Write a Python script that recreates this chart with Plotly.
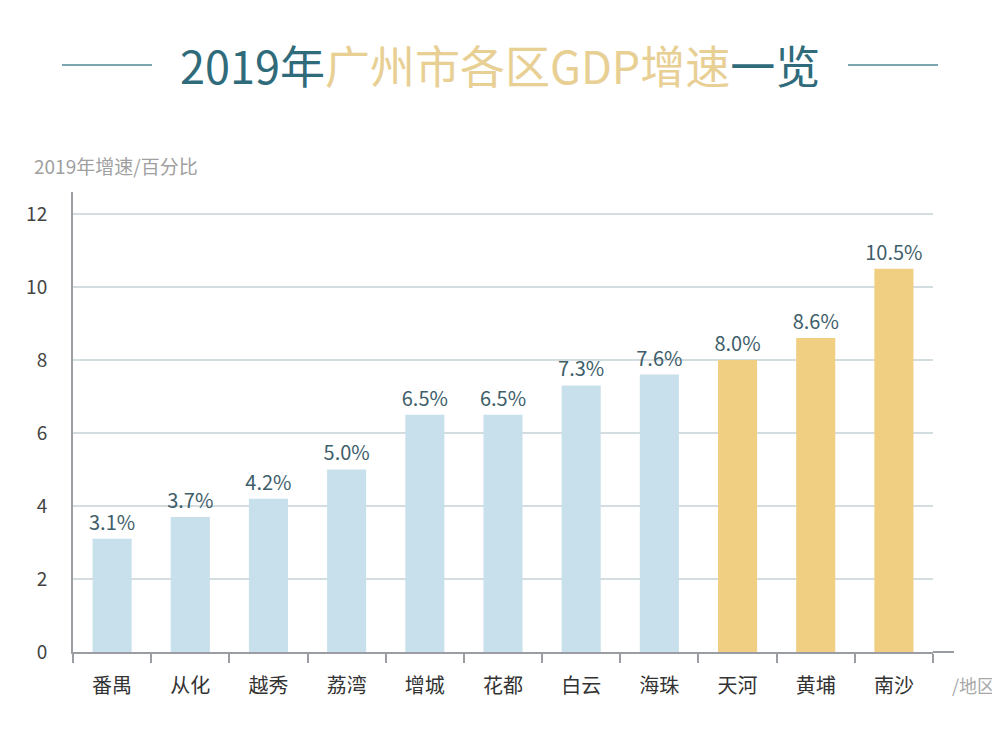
import plotly.graph_objects as go

districts = ["番禺", "从化", "越秀", "荔湾", "增城", "花都", "白云", "海珠", "天河", "黄埔", "南沙"]
growth = [3.1, 3.7, 4.2, 5.0, 6.5, 6.5, 7.3, 7.6, 8.0, 8.6, 10.5]
highlight = [False] * 8 + [True] * 3
y_ticks = [0, 2, 4, 6, 8, 10, 12]

BLUE = "#c8e0eb"
GOLD = "#f0cf82"
TEAL = "#2f6b7a"
CJK = "Noto Sans CJK SC, Noto Sans, sans-serif"

# page offset (browser default body margin)
OFF = 8
W, H = 1000 - OFF, 735 - OFF
L, R, T, B = 73, 933, 192, 652  # desired plot box in screenshot px
ML, MT = L - OFF, T - OFF
MR, MB = W - (R - OFF), H - (B - OFF)
PW, PH = R - L, B - T


def px(x):
    return (x - L) / PW


def py(y):
    return (B - y) / PH


colors = [GOLD if h else BLUE for h in highlight]

fig = go.Figure()
fig.add_trace(go.Bar(
    x=districts,
    y=growth,
    marker=dict(color=colors, line=dict(width=0)),
    width=0.5,
    text=[f"{v:.1f}%" for v in growth],
    textposition="outside",
    constraintext="none",
    textfont=dict(family=CJK, size=20, color="#3e5e6a"),
    cliponaxis=False,
    hoverinfo="x+y",
))

fig.update_layout(
    width=W, height=H,
    margin=dict(l=ML, r=MR, t=MT, b=MB, pad=0),
    paper_bgcolor="white", plot_bgcolor="white",
    showlegend=False,
    font=dict(family=CJK),
    xaxis=dict(
        range=[-0.5, 10.5],
        showgrid=False,
        showline=True, linecolor="#9a9ea2", linewidth=2,
        ticks="outside", ticklen=9, tickcolor="#9a9ea2", tickwidth=2,
        tickson="boundaries",
        ticklabelstandoff=15,
        tickfont=dict(family=CJK, size=20, color="#333333"),
        fixedrange=True,
    ),
    yaxis=dict(
        range=[0, 12.6],
        tickvals=y_ticks,
        showgrid=True, gridcolor="#d3dde0", gridwidth=1.5,
        zeroline=False,
        showline=True, linecolor="#9a9ea2", linewidth=2,
        ticks="", ticklabelstandoff=20,
        tickfont=dict(family=CJK, size=19, color="#444444"),
        fixedrange=True,
    ),
)

# x axis line extension to the right
fig.add_shape(type="line", xref="paper", yref="paper",
              x0=1, x1=px(954), y0=0, y1=0,
              line=dict(color="#9a9ea2", width=2))

# Title (mixed colours)
fig.add_annotation(
    x=px(500), y=py(64), xref="paper", yref="paper",
    xanchor="center", yanchor="middle",
    text=(f"<span style='color:{TEAL}'>2019年</span>"
          f"<span style='color:#e8cf94'>广州市各区GDP增速</span>"
          f"<span style='color:{TEAL}'>一览</span>"),
    showarrow=False, font=dict(family=CJK, size=45),
)

# flanking lines
for x0, x1 in [(62, 152), (848, 938)]:
    fig.add_shape(type="line", xref="paper", yref="paper",
                  x0=px(x0), x1=px(x1), y0=py(65), y1=py(65),
                  line=dict(color="#4f8795", width=1.5))

# y-axis title
fig.add_annotation(
    x=px(32), y=py(165), xref="paper", yref="paper",
    xanchor="left", yanchor="middle",
    text="2019年增速/百分比", showarrow=False,
    font=dict(family=CJK, size=19, color="#a0a0a0"),
)
# x-axis title
fig.add_annotation(
    x=px(950), y=py(685), xref="paper", yref="paper",
    xanchor="left", yanchor="middle",
    text="/地区", showarrow=False,
    font=dict(family=CJK, size=18, color="#a8a8a8"),
)

fig.write_html("out.html")
